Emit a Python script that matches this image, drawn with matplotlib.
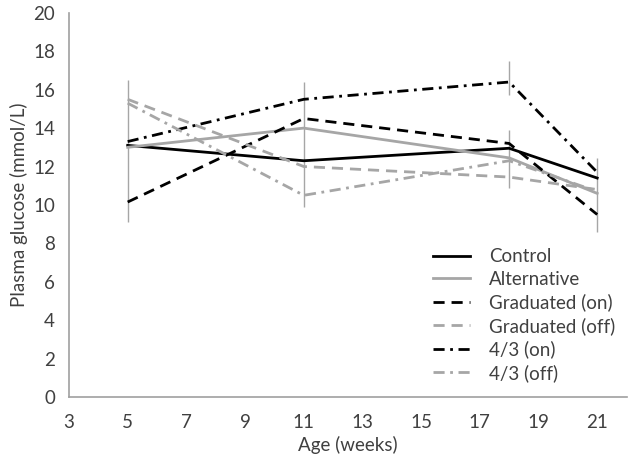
import matplotlib.pyplot as plt

weeks = [5, 11, 18, 21]

control = [13.1, 12.3, 12.95, 11.4]
alternative = [13.0, 14.0, 12.45, 10.6]
grad_on = [10.15, 14.5, 13.2, 9.5]
grad_off = [15.5, 12.0, 11.45, 10.8]
four3_on = [13.3, 15.5, 16.4, 11.7]
four3_off = [15.3, 10.5, 12.3, 10.7]

# error bar ranges seen on the picture
err_x = [5, 11, 18, 18, 21]
err_low = [9.1, 9.9, 10.9, 15.7, 8.6]
err_high = [16.5, 16.4, 13.9, 17.5, 12.45]

plt.rcParams['font.family'] = ['Lato', 'DejaVu Sans']
text_col = '#404040'
grey = '#a6a6a6'

fig = plt.figure(figsize=(6.3, 4.61), dpi=100)
ax = fig.add_axes([0.1095, 0.139, 0.885, 0.833])

ax.vlines(err_x, err_low, err_high, color=grey, lw=1, zorder=1)

ax.plot(weeks, control, color='black', lw=2, label='Control')
ax.plot(weeks, alternative, color=grey, lw=2, label='Alternative')
ax.plot(weeks, grad_on, color='black', lw=2, dashes=(4, 2.5), label='Graduated (on)')
ax.plot(weeks, grad_off, color=grey, lw=2, dashes=(4, 2.5), label='Graduated (off)')
ax.plot(weeks, four3_on, color='black', lw=2, dashes=(4, 2, 1, 2), label='4/3 (on)')
ax.plot(weeks, four3_off, color=grey, lw=2, dashes=(4, 2, 1, 2), label='4/3 (off)')

ax.set_xlim(3, 22)
ax.set_ylim(0, 20)
ax.set_xticks(range(3, 22, 2))
ax.set_yticks(range(0, 21, 2))
ax.tick_params(axis='x', length=0, labelsize=13.5, colors=text_col, pad=12)
ax.tick_params(axis='y', length=0, labelsize=13.5, colors=text_col, pad=10)
for s in ['top', 'right']:
    ax.spines[s].set_visible(False)
for s in ['left', 'bottom']:
    ax.spines[s].set_color('#a0a0a0')
    ax.spines[s].set_linewidth(1.2)

ax.set_xlabel('Age (weeks)', fontsize=13.5, color=text_col, labelpad=4)
ax.set_ylabel('Plasma glucose (mmol/L)', fontsize=13.5, color=text_col, labelpad=4)

ax.legend(loc='lower right', bbox_to_anchor=(1.01, -0.005), frameon=False,
          fontsize=13.5, labelcolor=text_col, handlelength=2.0,
          labelspacing=0.3, handletextpad=1.0)

fig.savefig('out.png')
